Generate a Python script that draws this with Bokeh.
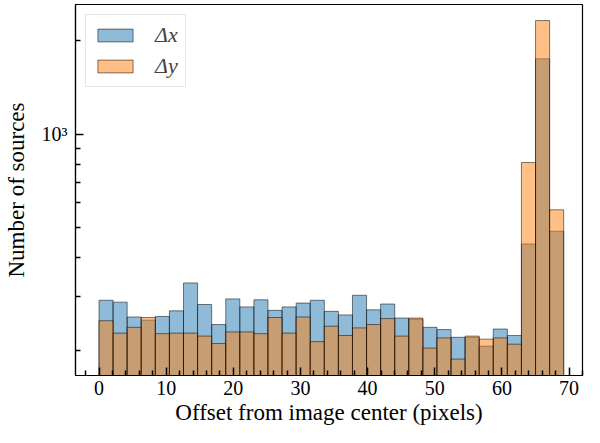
from bokeh.plotting import figure
from bokeh.models import FixedTicker, Range1d, Legend, LegendItem
from bokeh.embed import file_html
from bokeh.resources import INLINE

bin_lo = 0.0
bin_hi = 69.2
n_bins = 33

dx_counts = [291, 287, 257, 251, 258, 269, 331, 282, 243, 294, 277, 292, 270, 277, 285, 291,
             268, 261, 302, 271, 283, 255, 253, 238, 234, 221, 221, 207, 235, 224, 442, 1750, 486]
dy_counts = [250, 228, 238, 256, 227, 228, 228, 223, 211, 230, 230, 227, 256, 228, 257, 214,
             240, 224, 237, 243, 254, 223, 255, 204, 220, 188, 223, 218, 220, 210, 810, 2325, 570]

x_major = [0, 10, 20, 30, 40, 50, 60, 70]
x_minor = [-2, 2, 4, 6, 8, 12, 14, 16, 18, 22, 24, 26, 28, 32, 34, 36, 38, 42, 44, 46, 48,
           52, 54, 56, 58, 62, 64, 66, 68, 72]
y_major = [1000]
y_minor = [200, 300, 400, 500, 600, 700, 800, 900, 2000]
y_labels = {1000: "10³"}

w = (bin_hi - bin_lo) / n_bins
lefts = [bin_lo + i * w for i in range(n_bins)]
rights = [bin_lo + (i + 1) * w for i in range(n_bins)]

FONT = "Liberation Serif"

p = figure(width=584, height=427, y_axis_type="log", output_backend="svg",
           toolbar_location=None,
           x_range=Range1d(-3.5, 72.0), y_range=Range1d(166.4, 2620),
           min_border_left=69, min_border_right=2, min_border_top=4, min_border_bottom=52)

p.xgrid.visible = False
p.ygrid.visible = False
p.outline_line_color = "black"
p.outline_line_width = 1.2
p.background_fill_color = "white"
p.border_fill_color = "white"

rx = p.quad(left=lefts, right=rights, top=dx_counts, bottom=1,
            fill_color="#1f77b4", fill_alpha=0.5, line_color="black", line_alpha=0.5, line_width=1)
ry = p.quad(left=lefts, right=rights, top=dy_counts, bottom=1,
            fill_color="#ff7f0e", fill_alpha=0.5, line_color="black", line_alpha=0.5, line_width=1)

for ax in (p.xaxis[0], p.yaxis[0]):
    ax.major_tick_in = 8
    ax.major_tick_out = 0
    ax.minor_tick_in = 5
    ax.minor_tick_out = 0
    ax.major_tick_line_width = 1.5
    ax.minor_tick_line_width = 1.5
    ax.axis_line_color = "black"
    ax.axis_line_width = 1.2
    ax.major_label_text_font = FONT
    ax.major_label_text_font_size = "20px"
    ax.major_label_text_color = "black"
    ax.axis_label_text_font = FONT
    ax.axis_label_text_font_size = "23px"
    ax.axis_label_text_font_style = "normal"
    ax.axis_label_text_color = "black"

p.xaxis[0].ticker = FixedTicker(ticks=x_major, minor_ticks=x_minor)
p.yaxis[0].ticker = FixedTicker(ticks=y_major, minor_ticks=y_minor)
p.yaxis[0].major_label_overrides = y_labels
p.xaxis[0].major_label_standoff = 5
p.yaxis[0].major_label_standoff = 8
p.xaxis[0].axis_label = "Offset from image center (pixels)"
p.yaxis[0].axis_label = "Number of sources"
p.xaxis[0].axis_label_standoff = 2
p.yaxis[0].axis_label_standoff = 10

legend = Legend(items=[LegendItem(label="Δx", renderers=[rx]),
                       LegendItem(label="Δy", renderers=[ry])],
                location="top_left")
legend.label_text_font = FONT
legend.label_text_font_size = "22px"
legend.label_text_font_style = "italic"
legend.glyph_width = 44
legend.glyph_height = 16
legend.label_height = 22
legend.label_standoff = 18
legend.spacing = 5
legend.padding = 7
legend.margin = 10
legend.border_line_color = "#cccccc"
legend.border_line_width = 1
legend.background_fill_alpha = 0.8
p.add_layout(legend)

open("out.html", "w").write(file_html(p, INLINE))
